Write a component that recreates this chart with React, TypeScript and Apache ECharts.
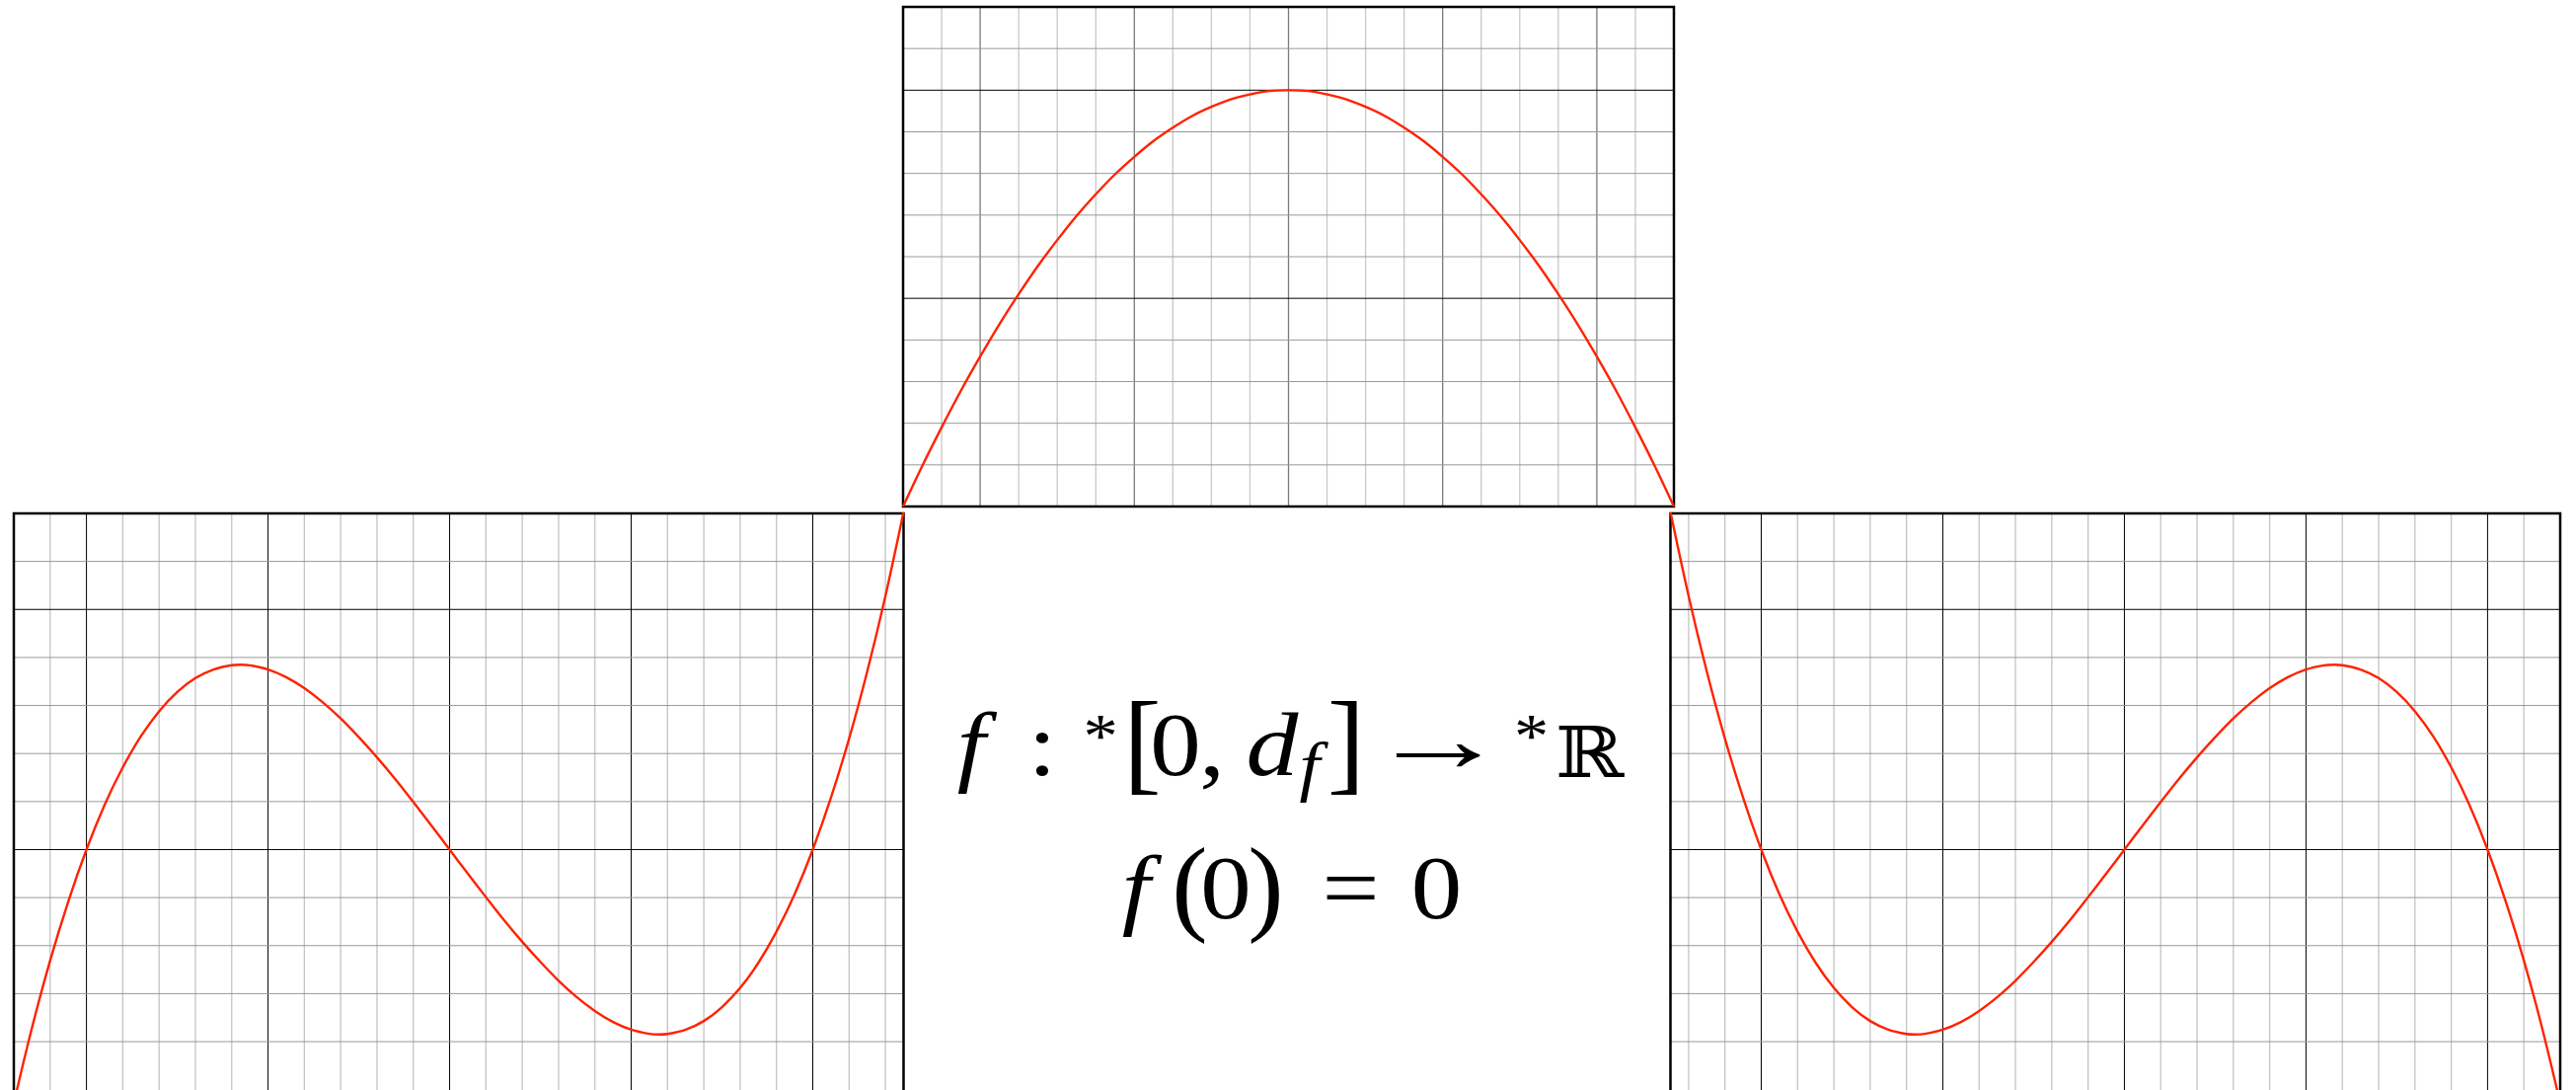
import React, { useEffect, useRef } from "react";
import * as echarts from "echarts";

// Chart canvas is a little taller than the window so the two lower panels run off the bottom edge.
const CHART_W = 2610;
const CHART_H = 1160;

// ---- Upper panel: arch over [0, 20] ----
const topX = [0, 0.5, 1, 1.5, 2, 2.5, 3, 3.5, 4, 4.5, 5, 5.5, 6, 6.5, 7, 7.5, 8, 8.5, 9, 9.5, 10,
  10.5, 11, 11.5, 12, 12.5, 13, 13.5, 14, 14.5, 15, 15.5, 16, 16.5, 17, 17.5, 18, 18.5, 19, 19.5, 20];
const topY = [0, 0.98, 1.9, 2.78, 3.6, 4.38, 5.1, 5.78, 6.4, 6.98, 7.5, 7.98, 8.4, 8.78, 9.1, 9.38, 9.6, 9.78, 9.9, 9.98, 10,
  9.98, 9.9, 9.78, 9.6, 9.38, 9.1, 8.78, 8.4, 7.98, 7.5, 6.98, 6.4, 5.78, 5.1, 4.38, 3.6, 2.78, 1.9, 0.98, 0];

// ---- Lower-left panel: up, down, up (turning points near x = 4.23 and x = 15.77) ----
const leftX = [-2, -1.5, -1, -0.5, 0, 0.5, 1, 1.5, 2, 2.5, 3, 3.5, 4, 4.23, 4.5, 5, 5.5, 6, 6.5, 7, 7.5, 8, 8.5, 9, 9.5, 10,
  10.5, 11, 11.5, 12, 12.5, 13, 13.5, 14, 14.5, 15, 15.5, 15.77, 16, 16.5, 17, 17.5, 18, 18.5, 19, 19.5, 20, 20.5, 21, 21.5, 22, 22.5];
const leftY = [-5.28, -3.71, -2.31, -1.08, 0, 0.93, 1.71, 2.36, 2.88, 3.28, 3.57, 3.75, 3.84, 3.85, 3.836, 3.75, 3.59, 3.36, 3.07, 2.73, 2.34, 1.92, 1.47, 0.99, 0.5, 0,
  -0.5, -0.99, -1.47, -1.92, -2.34, -2.73, -3.07, -3.36, -3.59, -3.75, -3.836, -3.85, -3.84, -3.75, -3.57, -3.28, -2.88, -2.36, -1.71, -0.93, 0, 1.08, 2.31, 3.71, 5.28, 7.03];

// ---- Lower-right panel: down, up, down ----
const rightX = [-2.5, -2, -1.5, -1, -0.5, 0, 0.5, 1, 1.5, 2, 2.5, 3, 3.5, 4, 4.23, 4.5, 5, 5.5, 6, 6.5, 7, 7.5, 8, 8.5, 9, 9.5, 10,
  10.5, 11, 11.5, 12, 12.5, 13, 13.5, 14, 14.5, 15, 15.5, 15.77, 16, 16.5, 17, 17.5, 18, 18.5, 19, 19.5, 20, 20.5, 21, 21.5, 22];
const rightY = [7.03, 5.28, 3.71, 2.31, 1.08, 0, -0.93, -1.71, -2.36, -2.88, -3.28, -3.57, -3.75, -3.84, -3.85, -3.836, -3.75, -3.59, -3.36, -3.07, -2.73, -2.34, -1.92, -1.47, -0.99, -0.5, 0,
  0.5, 0.99, 1.47, 1.92, 2.34, 2.73, 3.07, 3.36, 3.59, 3.75, 3.836, 3.85, 3.84, 3.75, 3.57, 3.28, 2.88, 2.36, 1.71, 0.93, 0, -1.08, -2.31, -3.71, -5.28];

// ---- Grid-paper rulings (axis values) ----
const topMajorX = [2, 6, 10, 14, 18];
const topMinorX = [1, 3, 4, 5, 7, 8, 9, 11, 12, 13, 15, 16, 17, 19];
const topMajorY = [5, 10];
const topMinorY = [1, 2, 3, 4, 6, 7, 8, 9, 11];

const lowMajorX = [0, 5, 10, 15, 20];
const leftMinorX = [-1, 1, 2, 3, 4, 6, 7, 8, 9, 11, 12, 13, 14, 16, 17, 18, 19, 21, 22];
const rightMinorX = [-2, -1, 1, 2, 3, 4, 6, 7, 8, 9, 11, 12, 13, 14, 16, 17, 18, 19, 21];
const lowMajorY = [0, 5];
const lowMinorY = [-4, -3, -2, -1, 1, 2, 3, 4, 6];

const CURVE_COLOR = "#ff2200";

type Ruling = { stroke: string; width: number };

// Builds the custom series that rules the paper of one panel.
function rulings(
  idx: number,
  vMinor: number[],
  vMajor: number[],
  hMinor: number[],
  hMajor: number[],
  styles: Ruling[]
) {
  const data: number[][] = [];
  vMinor.forEach((v) => data.push([0, v, 0]));
  vMajor.forEach((v) => data.push([0, v, 1]));
  hMinor.forEach((v) => data.push([1, v, 2]));
  hMajor.forEach((v) => data.push([1, v, 3]));
  return {
    type: "custom",
    xAxisIndex: idx,
    yAxisIndex: idx,
    z: 1,
    silent: true,
    data,
    renderItem: (params: any, api: any) => {
      const dir = api.value(0);
      const v = api.value(1);
      const st = styles[api.value(2)];
      const cs = params.coordSys;
      if (dir === 0) {
        const px = api.coord([v, 0])[0];
        return {
          type: "line",
          shape: { x1: px, y1: cs.y, x2: px, y2: cs.y + cs.height },
          style: { stroke: st.stroke, lineWidth: st.width },
        };
      }
      const py = api.coord([0, v])[1];
      return {
        type: "line",
        shape: { x1: cs.x, y1: py, x2: cs.x + cs.width, y2: py },
        style: { stroke: st.stroke, lineWidth: st.width },
      };
    },
  };
}

function curve(idx: number, xs: number[], ys: number[]) {
  return {
    type: "line",
    xAxisIndex: idx,
    yAxisIndex: idx,
    z: 3,
    data: xs.map((x, i) => [x, ys[i]]),
    smooth: 0.35,
    showSymbol: false,
    silent: true,
    clip: true,
    lineStyle: { color: CURVE_COLOR, width: 2.4 },
  };
}

// Formula tokens: [text, centre x, centre y, font size, italic, family, horizontal stretch]
type Tok = [string, number, number, number, boolean, string, number];
const SERIF = "Liberation Serif";
const formula: Tok[] = [
  ["f", 984, 754, 92, true, SERIF, 1.12],
  [":", 1056, 754, 92, false, SERIF, 1.12],
  ["*", 1115, 746, 64, false, SERIF, 1.1],
  ["[", 1157.5, 751.5, 115, false, SERIF, 1],
  ["0", 1191, 754, 92, false, SERIF, 1.12],
  [",", 1228, 754, 92, false, SERIF, 1.12],
  ["d", 1289, 754, 92, true, SERIF, 1.15],
  ["f", 1327, 776, 67, true, SERIF, 1.12],
  ["]", 1364, 751.5, 115, false, SERIF, 1],
  ["\u2192", 1457.5, 749, 95, false, SERIF, 1.5],
  ["*", 1551.5, 746, 64, false, SERIF, 1.1],
  ["\u211D", 1610.5, 762, 71, false, "DejaVu Serif", 1.18],
  ["f", 1151, 899, 92, true, SERIF, 1.12],
  ["(", 1205.5, 896.5, 109, false, SERIF, 1],
  ["0", 1242, 899, 92, false, SERIF, 1.12],
  [")", 1282.5, 896.5, 109, false, SERIF, 1],
  ["=", 1368.5, 899, 92, false, SERIF, 1.12],
  ["0", 1455.5, 899, 92, false, SERIF, 1.12],
];

export default function App() {
  const ref = useRef<HTMLDivElement>(null);

  useEffect(() => {
    if (!ref.current) return;
    const chart = echarts.init(ref.current, undefined, { renderer: "svg" });

    const unitY = 48.64;
    const lowTop = 520;
    const lowHeight = 13 * unitY; // y from -6 to 7

    const gridBase = {
      show: true,
      borderColor: "#000",
      borderWidth: 2.5,
      backgroundColor: "transparent",
      containLabel: false,
      z: 2,
    };

    const topStyles: Ruling[] = [
      { stroke: "#c8c8c8", width: 1.3 },
      { stroke: "#7a7a7a", width: 1.3 },
      { stroke: "#999999", width: 1 },
      { stroke: "#000000", width: 1 },
    ];
    const lowStyles: Ruling[] = [
      { stroke: "#c4c4c4", width: 1.3 },
      { stroke: "#000000", width: 1 },
      { stroke: "#999999", width: 1 },
      { stroke: "#000000", width: 1 },
    ];

    const hiddenAxis = (gridIndex: number, min: number, max: number) => ({
      type: "value",
      gridIndex,
      min,
      max,
      show: false,
    });

    chart.setOption({
      animation: false,
      backgroundColor: "#ffffff",
      grid: [
        { ...gridBase, left: 915, top: 7, width: 781, height: 506 },
        { ...gridBase, left: 14, top: lowTop, width: 901.5, height: lowHeight },
        { ...gridBase, left: 1692.5, top: lowTop, width: 901.5, height: lowHeight },
      ],
      xAxis: [hiddenAxis(0, 0, 20), hiddenAxis(1, -2, 22.5), hiddenAxis(2, -2.5, 22)],
      yAxis: [hiddenAxis(0, 0, 12), hiddenAxis(1, -6, 7), hiddenAxis(2, -6, 7)],
      series: [
        rulings(0, topMinorX, topMajorX, topMinorY, topMajorY, topStyles),
        rulings(1, leftMinorX, lowMajorX, lowMinorY, lowMajorY, lowStyles),
        rulings(2, rightMinorX, lowMajorX, lowMinorY, lowMajorY, lowStyles),
        curve(0, topX, topY),
        curve(1, leftX, leftY),
        curve(2, rightX, rightY),
      ],
      graphic: formula.map(([t, x, y, size, italic, family, sx]) => ({
        type: "text",
        x,
        y,
        scaleX: sx,
        z: 10,
        silent: true,
        style: {
          text: t,
          fontSize: size,
          fontFamily: family,
          fontStyle: italic ? "italic" : "normal",
          fill: "#000",
          align: "center",
          verticalAlign: "middle",
          textAlign: "center",
          textVerticalAlign: "middle",
        },
      })),
    });

    return () => chart.dispose();
  }, []);

  return (
    <div
      ref={ref}
      style={{ position: "fixed", left: 0, top: 0, width: CHART_W, height: CHART_H }}
    />
  );
}
